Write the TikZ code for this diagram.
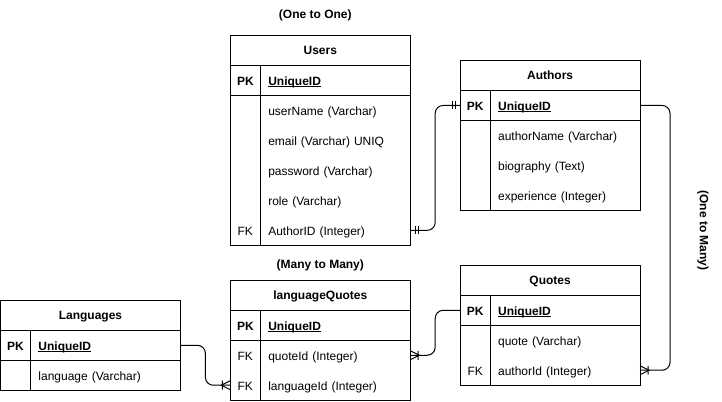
\documentclass[tikz,border=0pt]{standalone}
\usepackage{fontspec}
\setmainfont{Liberation Sans}
\usetikzlibrary{positioning}

\tikzset{
  title/.style={draw, line width=1pt, anchor=north west, text width=180pt, inner xsep=0pt, outer sep=0pt,
                minimum height=30pt, text height=9pt, text depth=0pt, align=center,
                font=\fontsize{12}{14}\selectfont\bfseries},
  keyrow/.style={draw, line width=1pt, text width=180pt, inner xsep=0pt, outer sep=0pt,
                 minimum height=30pt, text height=10pt, text depth=0pt, align=left,
                 font=\fontsize{12}{14}\selectfont\bfseries},
  row/.style={text width=180pt, inner xsep=0pt, outer sep=0pt, minimum height=30pt,
              text height=10pt, text depth=0pt, align=left},
  frame/.style={draw, line width=1pt},
  conn/.style={draw, line width=1pt, rounded corners=8pt},
  note/.style={font=\fontsize{12}{14}\selectfont\bfseries},
  onemark/.pic={\draw[line width=1pt] (5,-4) -- (5,4) (8,-4) -- (8,4);},
  manymark/.pic={\draw[line width=1pt] (0,-4.5) -- (9,0) -- (0,4.5) (8,-4.5) -- (8,4.5);}
}
\newcommand{\keycell}[1]{\makebox[30pt]{#1}\hspace{8pt}}
\newcommand{\keyname}[1]{\setbox0\hbox{#1}\rlap{\rule[-1.8pt]{\wd0}{0.9pt}}\box0}

\begin{document}
\begin{tikzpicture}[x=1pt, y=-1pt, node distance=0pt, font=\fontsize{12}{14}\selectfont]
\useasboundingbox (-0.5,-0.5) rectangle (722,401);

% Users
\node[title] (users) at (230,35) {Users};
\node[keyrow, below=of users] (users-pk) {\keycell{PK}\keyname{UniqueID}};
\node[row, below=of users-pk] (users-name) {\keycell{}userName (Varchar)};
\node[row, below=of users-name] (users-email) {\keycell{}email (Varchar) UNIQ};
\node[row, below=of users-email] (users-pass) {\keycell{}password (Varchar)};
\node[row, below=of users-pass] (users-role) {\keycell{}role (Varchar)};
\node[row, below=of users-role] (users-authorid) {\keycell{FK}AuthorID (Integer)};
\draw[frame] (users.north west) rectangle (users-authorid.south east);
\draw[frame] ([xshift=30pt]users-pk.north west) -- ([xshift=30pt]users-authorid.south west);

% Authors
\node[title] (authors) at (460,60) {Authors};
\node[keyrow, below=of authors] (authors-pk) {\keycell{PK}\keyname{UniqueID}};
\node[row, below=of authors-pk] (authors-name) {\keycell{}authorName (Varchar)};
\node[row, below=of authors-name] (authors-bio) {\keycell{}biography (Text)};
\node[row, below=of authors-bio] (authors-exp) {\keycell{}experience (Integer)};
\draw[frame] (authors.north west) rectangle (authors-exp.south east);
\draw[frame] ([xshift=30pt]authors-pk.north west) -- ([xshift=30pt]authors-exp.south west);

% Quotes
\node[title] (quotes) at (460,265) {Quotes};
\node[keyrow, below=of quotes] (quotes-pk) {\keycell{PK}\keyname{UniqueID}};
\node[row, below=of quotes-pk] (quotes-quote) {\keycell{}quote (Varchar)};
\node[row, below=of quotes-quote] (quotes-authorid) {\keycell{FK}authorId (Integer)};
\draw[frame] (quotes.north west) rectangle (quotes-authorid.south east);
\draw[frame] ([xshift=30pt]quotes-pk.north west) -- ([xshift=30pt]quotes-authorid.south west);

% languageQuotes
\node[title] (lq) at (230,280) {languageQuotes};
\node[keyrow, below=of lq] (lq-pk) {\keycell{PK}\keyname{UniqueID}};
\node[row, below=of lq-pk] (lq-quoteid) {\keycell{FK}quoteId (Integer)};
\node[row, below=of lq-quoteid] (lq-langid) {\keycell{FK}languageId (Integer)};
\draw[frame] (lq.north west) rectangle (lq-langid.south east);
\draw[frame] ([xshift=30pt]lq-pk.north west) -- ([xshift=30pt]lq-langid.south west);

% Languages
\node[title] (lang) at (0,300) {Languages};
\node[keyrow, below=of lang] (lang-pk) {\keycell{PK}\keyname{UniqueID}};
\node[row, below=of lang-pk] (lang-name) {\keycell{}language (Varchar)};
\draw[frame] (lang.north west) rectangle (lang-name.south east);
\draw[frame] ([xshift=30pt]lang-pk.north west) -- ([xshift=30pt]lang-name.south west);

% relations
\draw[conn] (users-authorid.east) -- ++(25,0) |- (authors-pk.west);
\pic at (users-authorid.east) {onemark};
\pic[rotate=180] at (authors-pk.west) {onemark};

\draw[conn] (authors-pk.east) -- ++(30,0) |- (quotes-authorid.east);
\pic at (quotes-authorid.east) {manymark};

\draw[conn] (lq-quoteid.east) -- ++(25,0) |- (quotes-pk.west);
\pic at (lq-quoteid.east) {manymark};

\draw[conn] (lang-pk.east) -- ++(25,0) |- (lq-langid.west);
\pic[rotate=180] at (lq-langid.west) {manymark};

% labels
\node[note] (n-one) at (315,15) {(One to One)};
\node[note] (n-mm) at (320,265) {(Many to Many)};
\node[note, rotate=-90] (n-om) at (703,230) {(One to Many)};
\end{tikzpicture}
\end{document}
